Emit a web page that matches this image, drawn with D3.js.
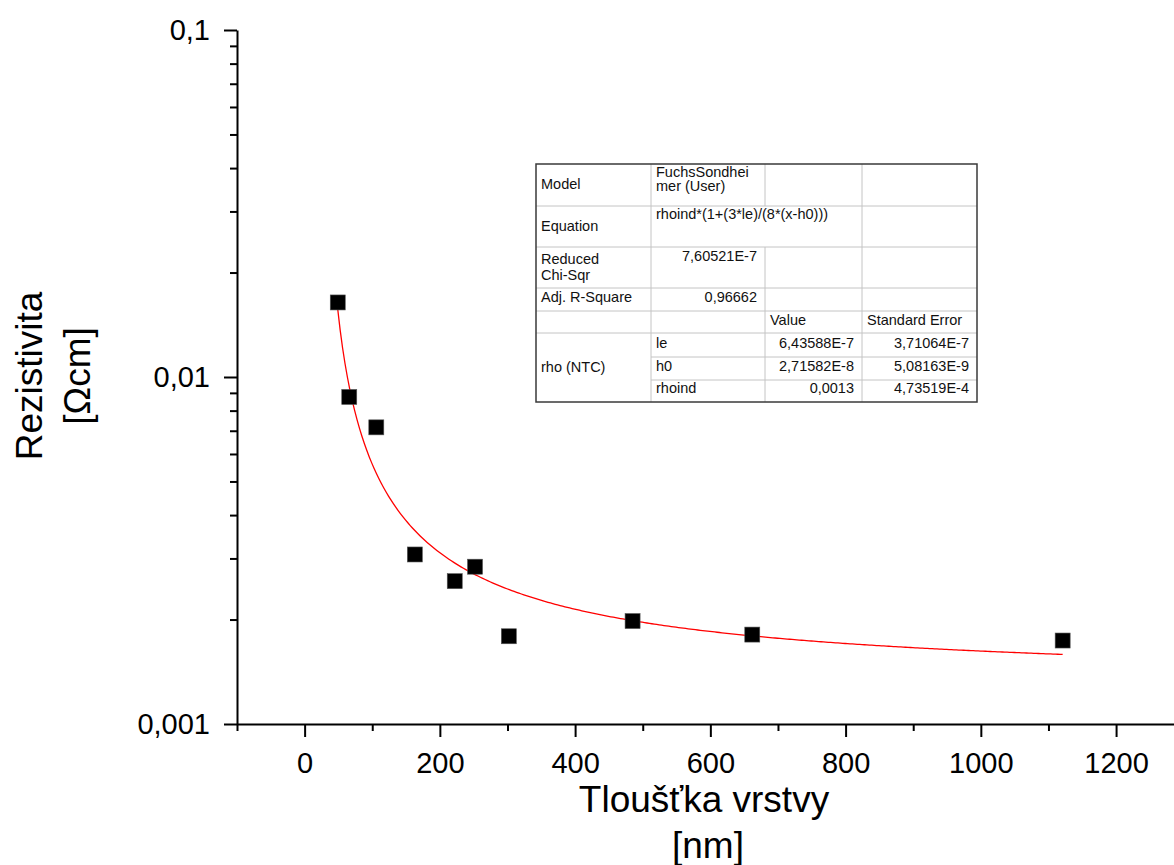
<!DOCTYPE html>
<html>
<head>
<meta charset="utf-8">
<script src="https://cdn.jsdelivr.net/npm/d3@7"></script>
<style>
  html, body { margin: 0; padding: 0; background: #fff; }
  svg { display: block; font-family: "Liberation Sans", Arial, sans-serif; }
</style>
</head>
<body>
<svg id="chart" width="1174" height="865"></svg>
<script>
// Measured film thickness [nm] and resistivity [Ω·cm]
const thickness   = [49, 66, 106, 163, 222, 252, 302, 485, 662, 1121];
const resistivity = [0.0164, 0.00876, 0.00716, 0.00308, 0.00258, 0.00284, 0.00179, 0.00198, 0.00181, 0.00174];

// Fuchs–Sondheimer fit parameters (SI units, x given in nm)
const fitLe     = 6.43588e-7;
const fitH0     = 2.71582e-8;
const fitRhoInd = 0.0013;

// Axis ticks
const xMajorTicks = [0, 200, 400, 600, 800, 1000, 1200];
const xMinorTicks = [-100, 100, 300, 500, 700, 900, 1100, 1300];
const yMajorTicks = [0.001, 0.01, 0.1];
const yMajorLabels = ["0,001", "0,01", "0,1"];
const yMinorTicks = [2,3,4,5,6,7,8,9].flatMap(m => [m * 0.001, m * 0.01]);

// Fit result table rows: [col0, col1, col2, col3]
const tableModel     = ["Model", "FuchsSondhei\nmer (User)", "", ""];
const tableEquation  = ["Equation", "rhoind*(1+(3*le)/(8*(x-h0)))"];
const tableChi       = ["Reduced\nChi-Sqr", "7,60521E-7", "", ""];
const tableR2        = ["Adj. R-Square", "0,96662", "", ""];
const tableHeader    = ["", "", "Value", "Standard Error"];
const tableParamName = "rho (NTC)";
const tableParams    = ["le", "h0", "rhoind"];
const tableValues    = ["6,43588E-7", "2,71582E-8", "0,0013"];
const tableErrors    = ["3,71064E-7", "5,08163E-9", "4,73519E-4"];

const svg = d3.select("#chart");

const x = d3.scaleLinear().domain([-100, 1300]).range([237, 1183.7]);
const y = d3.scaleLog().domain([0.001, 0.1]).range([724, 30]);

// ---- axes ----
function styleAxis(g) {
  g.selectAll("path.domain").attr("stroke", "#000").attr("stroke-width", 2);
  g.selectAll(".tick line").attr("stroke", "#000").attr("stroke-width", 2);
  g.selectAll(".tick text").attr("fill", "#000").attr("font-size", 29)
    .attr("font-family", "Liberation Sans, Arial, sans-serif");
}

svg.append("g").attr("transform", `translate(0,${y(0.001)})`)
  .call(d3.axisBottom(x).tickValues(xMinorTicks).tickSize(7).tickSizeOuter(0).tickFormat(""))
  .call(styleAxis);
svg.append("g").attr("transform", `translate(0,${y(0.001)})`)
  .call(d3.axisBottom(x).tickValues(xMajorTicks).tickSize(13).tickPadding(15).tickSizeOuter(0).tickFormat(d3.format("d")))
  .call(g => g.select("path.domain").remove())
  .call(styleAxis);

svg.append("g").attr("transform", `translate(${x(-100)},0)`)
  .call(d3.axisLeft(y).tickValues(yMinorTicks).tickSize(7).tickSizeOuter(0).tickFormat(""))
  .call(styleAxis);
svg.append("g").attr("transform", `translate(${x(-100)},0)`)
  .call(d3.axisLeft(y).tickValues(yMajorTicks).tickSize(13).tickPadding(14).tickSizeOuter(0)
    .tickFormat(d => yMajorLabels[yMajorTicks.indexOf(d)]))
  .call(g => g.select("path.domain").remove())
  .call(styleAxis);

// ---- axis titles ----
const yTitle = svg.append("g").attr("font-size", 37).attr("fill", "#000").attr("text-anchor", "middle");
yTitle.append("text").attr("transform", "translate(42,376) rotate(-90)").text("Rezistivita");
yTitle.append("text").attr("transform", "translate(90,376) rotate(-90)").text("[Ωcm]");

const xTitle = svg.append("g").attr("font-size", 37).attr("fill", "#000").attr("text-anchor", "middle");
xTitle.append("text").attr("x", 704).attr("y", 812).text("Tloušťka vrstvy");
xTitle.append("text").attr("x", 708).attr("y", 858).text("[nm]");

// ---- fit curve ----
const fsModel = t => fitRhoInd * (1 + (3 * fitLe) / (8 * (t * 1e-9 - fitH0)));
const xMin = d3.min(thickness), xMax = d3.max(thickness);
const curve = d3.range(0, 301).map(i => {
  const t = xMin + (xMax - xMin) * i / 300;
  return [t, fsModel(t)];
});
svg.append("path")
  .datum(curve)
  .attr("fill", "none")
  .attr("stroke", "#ff0000")
  .attr("stroke-width", 1.3)
  .attr("d", d3.line().x(d => x(d[0])).y(d => y(d[1])));

// ---- data points ----
const sq = 15;
svg.append("g").selectAll("rect")
  .data(thickness.map((t, i) => [t, resistivity[i]]))
  .join("rect")
  .attr("x", d => x(d[0]) - sq / 2)
  .attr("y", d => y(d[1]) - sq / 2)
  .attr("width", sq).attr("height", sq)
  .attr("fill", "#000")
  .attr("stroke", "#555").attr("stroke-width", 0.6);

// ---- fit result table ----
const colX = [536, 651, 765, 862, 977];
const rowY = [164, 206, 247, 288, 311, 333, 357, 380, 402];
const tbl = svg.append("g").attr("font-size", 14.5).attr("fill", "#111");
tbl.append("rect").attr("x", colX[0]).attr("y", rowY[0])
  .attr("width", colX[4] - colX[0]).attr("height", rowY[8] - rowY[0])
  .attr("fill", "#fff");

const gridColor = "#c4c4c4";
function hline(yy, x0, x1) {
  tbl.append("line").attr("x1", x0).attr("x2", x1).attr("y1", yy).attr("y2", yy)
    .attr("stroke", gridColor).attr("stroke-width", 1);
}
function vline(xx, y0, y1) {
  tbl.append("line").attr("x1", xx).attr("x2", xx).attr("y1", y0).attr("y2", y1)
    .attr("stroke", gridColor).attr("stroke-width", 1);
}
// horizontal rules
for (let r = 1; r <= 5; r++) hline(rowY[r], colX[0], colX[4]);
hline(rowY[6], colX[1], colX[4]);
hline(rowY[7], colX[1], colX[4]);
// vertical rules (equation spans cols 1–2)
vline(colX[1], rowY[0], rowY[8]);
vline(colX[2], rowY[0], rowY[1]);
vline(colX[2], rowY[2], rowY[8]);
vline(colX[3], rowY[0], rowY[8]);
// outer frame
tbl.append("rect").attr("x", colX[0]).attr("y", rowY[0])
  .attr("width", colX[4] - colX[0]).attr("height", rowY[8] - rowY[0])
  .attr("fill", "none").attr("stroke", "#3a3a3a").attr("stroke-width", 1.5);

function cellText(str, col, baseline, align, lineGap = 14) {
  const lines = str.split("\n");
  const t = tbl.append("text")
    .attr("text-anchor", align === "right" ? "end" : "start");
  const xx = align === "right" ? colX[col + 1] - 8 : colX[col] + 5;
  lines.forEach((ln, i) => t.append("tspan").attr("x", xx).attr("y", baseline + i * lineGap).text(ln));
}

// Model row
cellText(tableModel[0], 0, 189, "left");
cellText(tableModel[1], 1, 177, "left");
// Equation row
cellText(tableEquation[0], 0, 231, "left");
cellText(tableEquation[1], 1, 219, "left");
// Reduced Chi-Sqr row
cellText(tableChi[0], 0, 264, "left", 16);
cellText(tableChi[1], 1, 261, "right");
// Adj. R-Square row
cellText(tableR2[0], 0, 302, "left");
cellText(tableR2[1], 1, 302, "right");
// Header row
cellText(tableHeader[2], 2, 325, "left");
cellText(tableHeader[3], 3, 325, "left");
// Parameter block
cellText(tableParamName, 0, 372, "left");
tableParams.forEach((p, i) => {
  const base = [348, 371, 393][i];
  cellText(p, 1, base, "left");
  cellText(tableValues[i], 2, base, "right");
  cellText(tableErrors[i], 3, base, "right");
});
</script>
</body>
</html>
